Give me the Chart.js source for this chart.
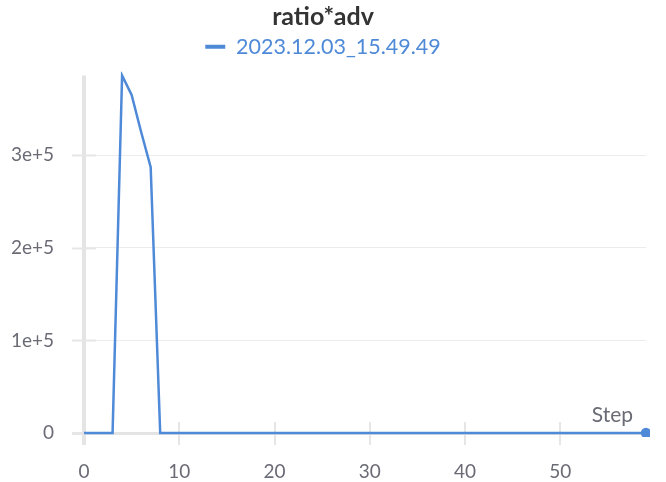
<!DOCTYPE html>
<html>
<head>
<meta charset="utf-8">
<script src="https://cdn.jsdelivr.net/npm/chart.js@4"></script>
<style>
  html, body { margin: 0; padding: 0; background: #fff; }
  #wrap { width: 666px; height: 482px; }
</style>
</head>
<body>
<div id="wrap"><canvas id="chart"></canvas></div>
<script>
const chartTitle = 'ratio*adv'
const seriesName = '2023.12.03_15.49.49'
const steps = [0,1,2,3,4,5,6,7,8,9,10,11,12,13,14,15,16,17,18,19,20,21,22,23,24,25,26,27,28,29,
  30,31,32,33,34,35,36,37,38,39,40,41,42,43,44,45,46,47,48,49,50,51,52,53,54,55,56,57,58,59]
const values = [0,0,0,0,386000,365000,325000,287000,0,0,0,0,0,0,0,0,0,0,0,0,0,0,0,0,0,0,0,0,0,0,
  0,0,0,0,0,0,0,0,0,0,0,0,0,0,0,0,0,0,0,0,0,0,0,0,0,0,0,0,0,0]
const yTicks = [0, 100000, 200000, 300000]
const yTickLabels = ['0', '1e+5', '2e+5', '3e+5']
const xTicks = [0, 10, 20, 30, 40, 50]

const lineColor = '#4f8ad8'
const fontFamily = "Lato, 'Noto Sans', sans-serif"
const tickColor = '#6b6b76'

// axis lines and tick marks that straddle them, drawn under the data
const axisLines = {
  id: 'axisLines',
  beforeDatasetsDraw(chart) {
    const c = chart.ctx
    const area = chart.chartArea
    const xs = chart.scales.x, ys = chart.scales.y
    c.save()
    c.fillStyle = '#e4e4e4'
    c.fillRect(area.left - 2, area.top, 4, area.bottom - area.top + 12)
    c.fillRect(area.left - 12, area.bottom - 1, area.right - area.left + 12, 3)
    c.strokeStyle = '#e6e6e6'
    c.lineWidth = 2
    yTicks.forEach(v => {
      const py = Math.round(ys.getPixelForValue(v)) + 0.5
      c.beginPath(); c.moveTo(area.left - 12, py); c.lineTo(area.left + 12, py); c.stroke()
    })
    xTicks.forEach(v => {
      const px = Math.round(xs.getPixelForValue(v))
      c.beginPath(); c.moveTo(px, area.bottom - (v === 0 ? 0 : 11)); c.lineTo(px, area.bottom + 12); c.stroke()
    })
    c.restore()
  },
  afterDatasetsDraw(chart) {
    const c = chart.ctx
    const area = chart.chartArea
    c.save()
    c.fillStyle = tickColor
    c.font = '21px ' + fontFamily
    c.textAlign = 'right'
    c.textBaseline = 'alphabetic'
    c.fillText('Step', area.right - 13, area.bottom - 11)
    c.restore()
  }
}

// extra room under the legend
const legendGap = {
  id: 'legendGap',
  beforeInit(chart) {
    const fit = chart.legend.fit
    chart.legend.fit = function () {
      fit.call(this)
      this.height += 8
    }
  }
}

new Chart(document.getElementById('chart'), {
  type: 'line',
  data: {
    datasets: [{
      label: seriesName,
      data: steps.map((s, i) => ({ x: s, y: values[i] })),
      borderColor: lineColor,
      backgroundColor: lineColor,
      borderWidth: 2.5,
      pointRadius: ctx => ctx.dataIndex === steps.length - 1 ? 4 : 0,
      pointHoverRadius: 4,
      tension: 0,
      clip: 4
    }]
  },
  options: {
    responsive: true,
    maintainAspectRatio: false,
    animation: false,
    layout: { padding: { left: 0, right: 20, top: 0, bottom: 0 } },
    scales: {
      x: {
        type: 'linear',
        min: 0,
        max: 59,
        afterBuildTicks: s => { s.ticks = xTicks.map(v => ({ value: v })) },
        afterFit: s => { s.height = 49 },
        grid: { display: false, drawTicks: false },
        border: { display: false },
        ticks: { color: tickColor, font: { size: 19, family: fontFamily }, padding: 27, maxRotation: 0 }
      },
      y: {
        min: 0,
        max: Math.max(...values),
        afterBuildTicks: s => { s.ticks = yTicks.map(v => ({ value: v })) },
        afterFit: s => { s.width = 84 },
        grid: { color: '#ececec', lineWidth: 1, drawTicks: false },
        border: { display: false },
        ticks: {
          color: tickColor,
          font: { size: 19, family: fontFamily },
          padding: 30,
          callback: v => yTickLabels[yTicks.indexOf(v)]
        }
      }
    },
    plugins: {
      title: {
        display: true,
        text: chartTitle,
        color: '#333',
        font: { size: 25, weight: 'bold', family: fontFamily },
        padding: { top: 2, bottom: 0 }
      },
      legend: {
        display: true,
        labels: {
          color: lineColor,
          font: { size: 21.5, family: fontFamily },
          usePointStyle: true,
          pointStyle: 'line',
          pointStyleWidth: 20,
          boxWidth: 20,
          padding: 4,
          generateLabels: chart => Chart.defaults.plugins.legend.labels.generateLabels(chart)
            .map(l => Object.assign(l, { lineWidth: 4 }))
        }
      },
      tooltip: { enabled: false }
    }
  },
  plugins: [axisLines, legendGap]
})
</script>
</body>
</html>
